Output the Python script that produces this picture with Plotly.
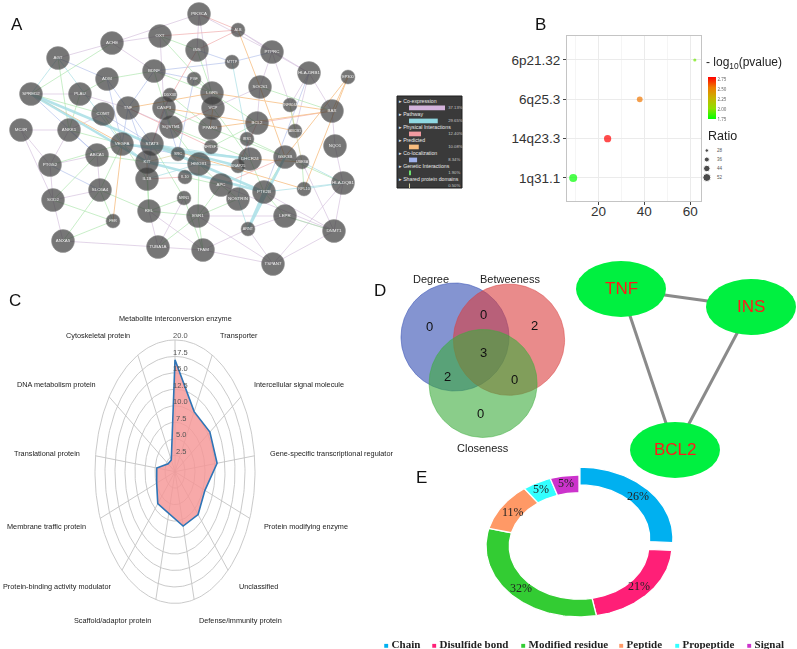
import numpy as np
import plotly.graph_objects as go

W, H = 797, 649
SANS = "Liberation Sans, Arial, sans-serif"
SERIF = "Liberation Serif, Times New Roman, serif"

# ================= DATA =================
# ---- Panel A: GeneMANIA interaction network ----
node_names = ["PIK3CA", "ALB", "OXT", "INS", "PTPRC", "ACHE", "AGT", "MTTP", "BDNF", "ADM",
              "PGF", "HLA-DRB1", "EP300", "SPRED2", "PLAU", "DDX3X", "LGR5", "SOCS1", "ZNF804A", "BAX",
              "TNF", "CASP3", "VCP", "COMT", "MC4R", "ANKK1", "SQSTM1", "PPARG", "BCL2", "ABCB1",
              "NQO1", "VEGFA", "STAT3", "TNFRSF1A", "IRS1", "ABCA1", "SRC", "DHCR24", "GSK3B", "UBE3A",
              "PTGS2", "KIT", "HMOX1", "SNAP25", "IL1B", "IL10", "APC", "HLA-DQB1", "SLC6A4", "PTK2B",
              "RPL10", "SOD2", "NRN1", "NOSTRIN", "REL", "ESR1", "LEPR", "FER", "ARNT", "DNMT1",
              "ANXA5", "TUBA1A", "TFAM", "TSPAN7"]
node_x = [199, 238, 160, 197, 272, 112, 58, 232, 154, 107,
          194, 309, 348, 31, 80, 170, 212, 260, 290, 332,
          128, 164, 213, 103, 21, 69, 171, 210, 257, 295,
          335, 122, 152, 211, 247, 97, 178, 250, 285, 302,
          50, 147, 199, 238, 147, 185, 221, 343, 100, 264,
          304, 53, 184, 238, 149, 198, 285, 113, 248, 334,
          63, 158, 203, 273]
node_y = [14, 30, 36, 50, 52, 43, 58, 62, 71, 79,
          79, 73, 77, 94, 94, 95, 93, 87, 105, 111,
          108, 108, 108, 114, 130, 130, 127, 128, 123, 131,
          146, 144, 144, 147, 139, 155, 154, 159, 157, 162,
          165, 162, 164, 166, 179, 177, 185, 183, 190, 192,
          189, 200, 198, 199, 211, 216, 216, 221, 229, 231,
          241, 247, 250, 264]
node_hub = [1, 0, 1, 1, 1, 1, 1, 0, 1, 1,
            0, 1, 0, 1, 1, 0, 1, 1, 0, 1,
            1, 1, 1, 1, 1, 1, 1, 1, 1, 0,
            1, 1, 1, 0, 0, 1, 0, 1, 1, 0,
            1, 1, 1, 0, 1, 0, 1, 1, 1, 1,
            0, 1, 0, 1, 1, 1, 1, 0, 0, 1,
            1, 1, 1, 1]

edges_coexpression = ("PIK3CA:INS;PIK3CA:VCP;PIK3CA:PTPRC;OXT:ACHE;OXT:CASP3;ACHE:AGT;ACHE:BDNF;"
                      "PTPRC:HLA-DRB1;PTPRC:ZNF804A;HLA-DRB1:ZNF804A;HLA-DRB1:BAX;HLA-DRB1:ABCB1;BAX:NQO1;"
                      "NQO1:HLA-DQB1;HLA-DQB1:DNMT1;DNMT1:TSPAN7;DNMT1:LEPR;DNMT1:UBE3A;TSPAN7:TFAM;"
                      "TFAM:TUBA1A;TUBA1A:ANXA5;TUBA1A:REL;ANXA5:SOD2;SOD2:PTGS2;PTGS2:MC4R;PTGS2:ANKK1;"
                      "PTGS2:ABCA1;MC4R:ANKK1;ANKK1:COMT;SLC6A4:ABCA1;SLC6A4:SOD2;PLAU:SPRED2;PLAU:TNF;"
                      "TNF:SQSTM1;ESR1:LEPR;LEPR:ARNT;ARNT:TFAM;TSPAN7:ARNT;GSK3B:UBE3A;BCL2:SOCS1;"
                      "SOCS1:PTPRC;VCP:SOCS1;ESR1:TSPAN7;APC:DNMT1;REL:TFAM;NRN1:TUBA1A;HLA-DQB1:TSPAN7;"
                      "MC4R:SOD2;PTK2B:DNMT1;PIK3CA:ACHE;ALB:PTPRC;ALB:HLA-DRB1")
edges_genetic = ("ACHE:SPRED2;AGT:ANKK1;ADM:PLAU;BDNF:SQSTM1;BDNF:LGR5;OXT:LGR5;INS:LGR5;DDX3X:PPARG;"
                 "LGR5:BCL2;SOCS1:BAX;VCP:DHCR24;PPARG:GSK3B;SQSTM1:HMOX1;VEGFA:SLC6A4;ANKK1:VEGFA;"
                 "STAT3:NRN1;KIT:REL;REL:ESR1;ESR1:HMOX1;FER:SOD2;FER:ANXA5;FER:SLC6A4;ANXA5:SLC6A4;"
                 "TUBA1A:ESR1;IL10:APC;APC:NOSTRIN;NOSTRIN:ESR1;TFAM:NRN1;DHCR24:PTK2B;GSK3B:PTK2B;"
                 "PTK2B:LEPR;ABCA1:KIT;COMT:IL1B;ESR1:APC;TNFRSF1A:BCL2;IRS1:GSK3B;VEGFA:PTGS2;"
                 "ABCA1:SOD2;SPRED2:COMT;ADM:BDNF;CASP3:PPARG;OXT:INS;SQSTM1:DHCR24;HMOX1:APC;"
                 "REL:NRN1;TFAM:ESR1;IL1B:REL;PGF:LGR5;ZNF804A:ABCB1;GSK3B:HLA-DQB1;UBE3A:RPL10;"
                 "LEPR:DNMT1;SLC6A4:REL;PLAU:ANKK1")
edges_colocalization = ("ADM:VEGFA;AGT:ADM;MTTP:BDNF;MTTP:INS;BDNF:TNF;BDNF:PGF;TNF:VEGFA;TNF:KIT;"
                        "COMT:STAT3;STAT3:IL1B;SPRED2:ABCA1;PTGS2:SLC6A4;VEGFA:SRC;DDX3X:STAT3;"
                        "ANKK1:ABCA1;HLA-DRB1:PTK2B;PGF:SRC;IRS1:DHCR24;ADM:STAT3;MTTP:PTPRC;CASP3:SRC")
edges_pathway = ("AGT:VEGFA;AGT:SPRED2;MTTP:IRS1;IRS1:NOSTRIN;PTK2B:HLA-DQB1;HMOX1:SNAP25;KIT:STAT3;"
                 "SRC:STAT3;IL1B:HMOX1;ARNT:NOSTRIN;UBE3A:HLA-DQB1;RPL10:HLA-DQB1;STAT3:DHCR24;"
                 "KIT:HMOX1;VEGFA:KIT")
edges_pathway_strong = ("SPRED2:KIT;SPRED2:HMOX1;STAT3:PTK2B;KIT:PTK2B;VEGFA:DHCR24;ARNT:PTK2B;"
                        "ARNT:GSK3B;STAT3:SNAP25")
edges_physical = ("PIK3CA:ALB;ALB:INS;ALB:OXT;INS:CASP3;CASP3:STAT3;STAT3:SRC;TNF:TNFRSF1A;KIT:IL1B;"
                  "IL1B:IL10;BAX:BCL2;BCL2:SNAP25;APC:GSK3B;VCP:SQSTM1")
edges_predicted = ("SPRED2:VEGFA;EP300:BAX;EP300:GSK3B;EP300:RPL10;BAX:PPARG;BAX:LGR5;PPARG:VCP;"
                   "LGR5:TNF;FER:VEGFA;STAT3:RPL10;BCL2:ABCB1;SOCS1:GSK3B;CASP3:BCL2;DHCR24:UBE3A;ALB:SOCS1")
edges_shared = "ZNF804A:UBE3A;KIT:SRC"

ia_types = ["Co-expression", "Pathway", "Physical Interactions", "Predicted",
            "Co-localization", "Genetic Interactions", "Shared protein domains"]
ia_pct = [37.13, 29.65, 12.40, 10.08, 8.34, 1.90, 0.50]
ia_colors = ["#d3b3dc", "#8fd8e2", "#f09aa0", "#f8bd7e", "#9fb1ea", "#6ee36e", "#d8d2a0"]

# ---- Panel B: chromosomal band enrichment ----
band_names = ["1q31.1", "14q23.3", "6q25.3", "6p21.32"]
band_count = [9, 24, 38, 62]
band_logp = [1.75, 2.80, 2.55, 1.95]
band_ratio = [52, 48, 40, 26]
ratio_legend = [28, 36, 44, 52]
logp_ticks = [1.75, 2.00, 2.25, 2.50, 2.75]
count_ticks = [20, 40, 60]

# ---- Panel C: PANTHER protein classes ----
pc_classes = ["Metabolite interconversion enzyme", "Transporter", "Intercellular signal molecule",
              "Gene-specific transcriptional regulator", "Protein modifying enzyme", "Unclassified",
              "Defense/immunity protein", "Scaffold/adaptor protein", "Protein-binding activity modulator",
              "Membrane traffic protein", "Translational protein", "DNA metabolism protein",
              "Cytoskeletal protein"]
pc_values = [17.0, 10.3, 10.6, 10.6, 8.0, 8.7, 8.5, 6.5, 6.5, 4.9, 4.6, 2.1, 2.0]
pc_rings = [2.5, 5.0, 7.5, 10.0, 12.5, 15.0, 17.5, 20.0]

# ---- Panel D: Venn of centrality + hub network ----
venn_names = ["Degree", "Betweeness", "Closeness"]
venn_cx = [0.0, 1.0, 0.52]
venn_cy = [0.0, -0.05, -0.86]
venn_r = [1.0, 1.03, 1.0]
venn_counts = [0, 0, 2, 3, 2, 0, 0]  # D only, D&B, B only, all, D&C, B&C, C only
venn_count_x = [-0.48, 0.53, 1.48, 0.53, -0.14, 1.105, 0.48]
venn_count_y = [0.20, 0.41, 0.22, -0.28, -0.74, -0.78, -1.41]
venn_name_x = [-0.44, 1.02, 0.52]
venn_name_y = [1.07, 1.07, -2.06]

hub_genes = ["TNF", "INS", "BCL2"]
hub_x = [621, 751, 675]
hub_y = [289, 307, 450]
hub_edges = [("TNF", "INS"), ("TNF", "BCL2"), ("INS", "BCL2")]

# ---- Panel E: protein feature donut ----
feat_names = ["Chain", "Disulfide bond", "Modified residue", "Peptide", "Propeptide", "Signal"]
feat_pct = [26, 21, 32, 11, 5, 5]
feat_colors = ["#00b0f0", "#ff1f77", "#33cc33", "#ff9966", "#33ffff", "#cc33cc"]


# ================= HELPERS =================
def xdom(a, b):
    return [a / W, b / W]


def ydom(top, bottom):
    return [1 - bottom / H, 1 - top / H]


fig = go.Figure()
shapes = []
ann = []

# ================= PANEL A =================
idx = {n: i for i, n in enumerate(node_names)}


def edge_xy(spec):
    xs, ys = [], []
    for pair in spec.split(";"):
        a, b = pair.split(":")
        xs += [node_x[idx[a]], node_x[idx[b]], None]
        ys += [node_y[idx[a]], node_y[idx[b]], None]
    return xs, ys


edge_layers = [
    (edges_coexpression, "#cfb8d8", 0.7),
    (edges_colocalization, "#a9b9e8", 0.7),
    (edges_genetic, "#a3e2a3", 0.7),
    (edges_pathway, "#a6dde3", 0.8),
    (edges_physical, "#f0aaaa", 0.8),
    (edges_predicted, "#f7c28a", 1.0),
    (edges_shared, "#d8d2a0", 0.8),
    (edges_pathway_strong, "#a8dfe6", 2.6),
]
for spec, col, w in edge_layers:
    xs, ys = edge_xy(spec)
    fig.add_trace(go.Scatter(x=xs, y=ys, mode="lines", line=dict(color=col, width=w),
                             opacity=0.85, hoverinfo="skip", xaxis="x", yaxis="y"))

fig.add_trace(go.Scatter(
    x=node_x, y=node_y, mode="markers+text", text=node_names, textposition="middle center",
    textfont=dict(size=[4.4 if h else 3.8 for h in node_hub], color="#f0f0f0", family=SANS),
    marker=dict(size=[23 if h else 14 for h in node_hub], color="#3c3c3c",
                line=dict(color="#6a6a6a", width=0.5)),
    cliponaxis=False, hoverinfo="text", xaxis="x", yaxis="y"))

# legend box of network
shapes.append(dict(type="rect", xref="paper", yref="paper", x0=397 / W, x1=462 / W,
                   y0=1 - 188 / H, y1=1 - 96 / H, fillcolor="#3a3a3a",
                   line=dict(color="#1e1e1e", width=1), layer="below"))
rows = list(range(len(ia_types)))
fig.add_trace(go.Bar(x=ia_pct, y=[r + 0.46 for r in rows], orientation="h", width=0.36,
                     marker=dict(color=ia_colors, line=dict(width=0)), hoverinfo="skip",
                     xaxis="x2", yaxis="y2"))
fig.add_trace(go.Scatter(x=[-10.6] * len(rows), y=rows, mode="text",
                         text=["▸ " + t for t in ia_types], textposition="middle right",
                         textfont=dict(size=5.2, color="#e8e8e8", family=SANS),
                         cliponaxis=False, hoverinfo="skip", xaxis="x2", yaxis="y2"))
fig.add_trace(go.Scatter(x=[40.5] * len(rows), y=[r + 0.46 for r in rows], mode="text",
                         text=[f"{p:.2f}%" for p in ia_pct], textposition="middle right",
                         textfont=dict(size=4.2, color="#c8c8c8", family=SANS),
                         cliponaxis=False, hoverinfo="skip", xaxis="x2", yaxis="y2"))

# ================= PANEL B =================
cs = [[0, "#00ff00"], [0.25, "#8fe000"], [0.5, "#c8b400"], [0.75, "#ee7c00"], [1, "#ff0000"]]


def ratio_size(r):
    return 2 + (r - 20) * 6 / 32


fig.add_trace(go.Scatter(
    x=band_count, y=band_names, mode="markers",
    marker=dict(size=[ratio_size(r) for r in band_ratio], color=band_logp, colorscale=cs,
                cmin=1.75, cmax=2.80, line=dict(width=0), showscale=True,
                colorbar=dict(x=708 / W, xanchor="left", y=1 - 98 / H, yanchor="middle",
                              len=42 / H, lenmode="fraction", thickness=8, thicknessmode="pixels",
                              tickvals=logp_ticks, ticktext=[f"{v:.2f}" for v in logp_ticks],
                              tickfont=dict(size=4.5, color="#555"), ticks="",
                              outlinewidth=0, xpad=0, ypad=0)),
    hoverinfo="x+y", xaxis="x3", yaxis="y3"))

fig.add_trace(go.Scatter(x=[0.2] * len(ratio_legend), y=list(range(len(ratio_legend))),
                         mode="markers", marker=dict(size=[ratio_size(r) for r in ratio_legend],
                                                     color="black"),
                         hoverinfo="skip", xaxis="x4", yaxis="y4"))
fig.add_trace(go.Scatter(x=[0.5] * len(ratio_legend), y=list(range(len(ratio_legend))),
                         mode="text", text=[str(r) for r in ratio_legend], textposition="middle right",
                         textfont=dict(size=4.5, color="#555", family=SANS), cliponaxis=False,
                         hoverinfo="skip", xaxis="x4", yaxis="y4"))
ann.append(dict(text="- log<sub>10</sub>(pvalue)", x=704 / W, y=1 - 63 / H, xref="paper", yref="paper",
                xanchor="left", yanchor="middle", showarrow=False,
                font=dict(size=12, color="#222", family=SANS)))
ann.append(dict(text="Ratio", x=706 / W, y=1 - 136 / H, xref="paper", yref="paper",
                xanchor="left", yanchor="middle", showarrow=False,
                font=dict(size=12.5, color="#222", family=SANS)))

# ================= PANEL C =================
n_pc = len(pc_classes)
ang = np.arange(n_pc) * 2 * np.pi / n_pc
t = np.linspace(0, 2 * np.pi, 241)
for r in pc_rings:
    fig.add_trace(go.Scatter(x=r * np.sin(t), y=r * np.cos(t), mode="lines",
                             line=dict(color="#c4c4c4", width=0.9), hoverinfo="skip",
                             xaxis="x5", yaxis="y5"))
sx, sy = [], []
for a in ang:
    sx += [0, pc_rings[-1] * np.sin(a), None]
    sy += [0, pc_rings[-1] * np.cos(a), None]
fig.add_trace(go.Scatter(x=sx, y=sy, mode="lines", line=dict(color="#c4c4c4", width=0.9),
                         hoverinfo="skip", xaxis="x5", yaxis="y5"))
vals = np.array(pc_values + pc_values[:1])
angc = np.concatenate([ang, ang[:1]])
fig.add_trace(go.Scatter(x=vals * np.sin(angc), y=vals * np.cos(angc), mode="lines",
                         fill="toself", fillcolor="rgba(245,150,150,0.82)",
                         line=dict(color="#2e75b6", width=1.6), hoverinfo="skip",
                         xaxis="x5", yaxis="y5"))
for r in pc_rings:
    ann.append(dict(text=f"{r:.1f}", x=1.4, y=r, xref="x5", yref="y5", showarrow=False,
                    yshift=4, font=dict(size=7.5, color="#555", family=SANS)))
r_lab = 23.3
for name, a in zip(pc_classes, ang):
    s, c = np.sin(a), np.cos(a)
    xa = "center" if abs(s) < 0.05 else ("left" if s > 0 else "right")
    ann.append(dict(text=name, x=r_lab * s, y=r_lab * c, xref="x5", yref="y5", showarrow=False,
                    xanchor=xa, yanchor="middle", font=dict(size=7.3, color="#222", family=SANS)))

# ================= PANEL D =================
venn_fill = ["rgba(57,83,181,0.62)", "rgba(218,62,62,0.6)", "rgba(60,172,60,0.6)"]
venn_line = ["rgba(57,83,181,0.7)", "rgba(218,62,62,0.6)", "rgba(60,172,60,0.6)"]
for cx, cy, r, fc, lc in zip(venn_cx, venn_cy, venn_r, venn_fill, venn_line):
    fig.add_trace(go.Scatter(x=cx + r * np.cos(t), y=cy + r * np.sin(t), mode="lines", fill="toself",
                             fillcolor=fc, line=dict(color=lc, width=0.8), hoverinfo="skip",
                             xaxis="x6", yaxis="y6"))
for v, x, y in zip(venn_counts, venn_count_x, venn_count_y):
    ann.append(dict(text=str(v), x=x, y=y, xref="x6", yref="y6", showarrow=False,
                    font=dict(size=13, color="#111", family=SANS)))
for nm, x, y in zip(venn_names, venn_name_x, venn_name_y):
    ann.append(dict(text=nm, x=x, y=y, xref="x6", yref="y6", showarrow=False,
                    font=dict(size=11, color="#222", family=SANS)))

hidx = {g: i for i, g in enumerate(hub_genes)}
ex, ey = [], []
for a, b in hub_edges:
    ex += [hub_x[hidx[a]], hub_x[hidx[b]], None]
    ey += [hub_y[hidx[a]], hub_y[hidx[b]], None]
fig.add_trace(go.Scatter(x=ex, y=ey, mode="lines", line=dict(color="#8a8a8a", width=3),
                         hoverinfo="skip", xaxis="x7", yaxis="y7"))
for g, x, y in zip(hub_genes, hub_x, hub_y):
    shapes.append(dict(type="circle", xref="x7", yref="y7", x0=x - 45, x1=x + 45, y0=y - 28, y1=y + 28,
                       fillcolor="#00f040", line=dict(width=0), layer="above"))
    ann.append(dict(text=g, x=x, y=y, xref="x7", yref="y7", showarrow=False,
                    font=dict(size=17, color="#ff1a1a", family=SANS)))

# ================= PANEL E =================
inner = 0.75
cum = np.concatenate([[0], np.cumsum(feat_pct)]) / sum(feat_pct) * 2 * np.pi
offsets = [(0.01, 0.11), (0, 0), (0, 0), (0, 0), (0, 0), (0, 0)]
for i, (nm, col) in enumerate(zip(feat_names, feat_colors)):
    a0, a1 = cum[i], cum[i + 1]
    th = np.linspace(a0, a1, 90)
    ox, oy = offsets[i]
    xs = np.concatenate([np.sin(th), inner * np.sin(th[::-1])]) + ox
    ys = np.concatenate([np.cos(th), inner * np.cos(th[::-1])]) + oy
    xs = np.append(xs, xs[0])
    ys = np.append(ys, ys[0])
    fig.add_trace(go.Scatter(x=xs, y=ys, mode="lines", fill="toself", fillcolor=col,
                             line=dict(color="white", width=1.3), hoverinfo="skip",
                             xaxis="x8", yaxis="y8"))
    mid = (a0 + a1) / 2
    rl = 0.86 if feat_pct[i] > 8 else 0.9
    ann.append(dict(text=f"{feat_pct[i]}%", x=rl * np.sin(mid) + ox, y=rl * np.cos(mid) + oy,
                    xref="x8", yref="y8", showarrow=False,
                    font=dict(size=12, color="#222", family=SERIF)))

leg_x = [382, 430, 519, 617, 673, 745]
for nm, col, lx in zip(feat_names, feat_colors, leg_x):
    ann.append(dict(text=f'<span style="color:{col};font-size:8px">■</span> <b>{nm}</b>',
                    x=lx / W, y=1 - 644 / H, xref="paper", yref="paper", xanchor="left",
                    yanchor="middle", showarrow=False, font=dict(size=11, color="#222", family=SERIF)))

# ================= PANEL LETTERS =================
for letter, lx, ly in [("A", 9, 13), ("B", 548, 13), ("C", 7, 300), ("D", 380, 290), ("E", 421, 489)]:
    ann.append(dict(text=letter, x=lx / W, y=1 - ly / H, xref="paper", yref="paper",
                    showarrow=False, font=dict(size=17, color="#111", family=SANS)))

# ================= LAYOUT =================
hid = dict(visible=False, fixedrange=True, showgrid=False, zeroline=False)
tickfont_b = dict(size=13.5, color="#333", family=SANS)
fig.update_layout(
    width=W, height=H, margin=dict(l=0, r=0, t=0, b=0),
    paper_bgcolor="white", plot_bgcolor="rgba(0,0,0,0)", showlegend=False,
    xaxis=dict(domain=xdom(0, 400), range=[0, 400], anchor="y", **hid),
    yaxis=dict(domain=ydom(0, 290), range=[290, 0], anchor="x", **hid),
    xaxis2=dict(domain=xdom(397, 462), range=[-12.38, 54.66], anchor="y2", **hid),
    yaxis2=dict(domain=ydom(96, 188), range=[6.62, -0.46], anchor="x2", **hid),
    xaxis3=dict(domain=xdom(567, 701), range=[6.3, 64.7], anchor="y3", tickvals=count_ticks,
                showgrid=True, gridcolor="#ebebeb", gridwidth=1,
                minor=dict(tickvals=[10, 30, 50], showgrid=True, gridcolor="#f5f5f5", gridwidth=0.6),
                zeroline=False, showline=True, mirror=True, linecolor="#c4c4c4", linewidth=1,
                ticks="outside", ticklen=3, tickcolor="#444", tickfont=tickfont_b,
                ticklabelstandoff=-5, fixedrange=True),
    yaxis3=dict(domain=ydom(36, 201), type="category", categoryorder="array", categoryarray=band_names,
                range=[-0.585, 3.61], anchor="x3", showgrid=True, gridcolor="#ebebeb", gridwidth=1,
                zeroline=False, showline=True, mirror=True, linecolor="#c4c4c4", linewidth=1,
                ticks="outside", ticklen=3, tickcolor="#444", tickfont=tickfont_b, fixedrange=True),
    xaxis4=dict(domain=xdom(700, 734), range=[0, 1], anchor="y4", **hid),
    yaxis4=dict(domain=ydom(146, 182), range=[3.5, -0.5], anchor="x4", **hid),
    xaxis5=dict(domain=xdom(0, 350), range=[-43.75, 43.75], anchor="y5", **hid),
    yaxis5=dict(domain=ydom(300, 645), range=[-26.32, 26.07], anchor="x5", **hid),
    xaxis6=dict(domain=xdom(390, 580), range=[-1.2037, 2.3148], anchor="y6", **hid),
    yaxis6=dict(domain=ydom(265, 455), range=[-2.185, 1.333], anchor="x6", **hid),
    xaxis7=dict(domain=xdom(570, 797), range=[570, 797], anchor="y7", **hid),
    yaxis7=dict(domain=ydom(255, 485), range=[485, 255], anchor="x7", **hid),
    xaxis8=dict(domain=xdom(479, 679), range=[-1.0753, 1.0753], anchor="y8", **hid),
    yaxis8=dict(domain=ydom(466, 626), range=[-1.1268, 1.1268], anchor="x8", **hid),
    shapes=shapes, annotations=ann,
)

fig.write_html("out.html", config={"displayModeBar": False},
               post_script="document.body.style.margin='0px';document.body.style.overflow='hidden';")
